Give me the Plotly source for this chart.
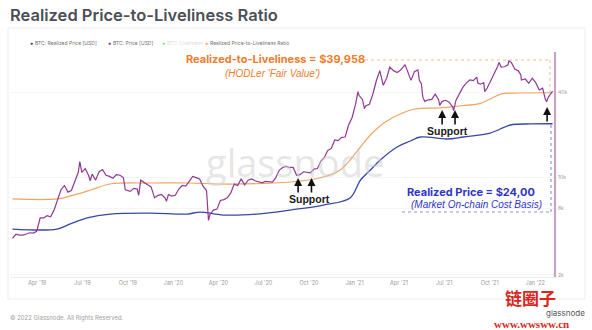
import math
import plotly.graph_objects as go

# ---------------- data ----------------
price_dates = [
    "2019-02-10", "2019-02-17", "2019-02-24", "2019-03-03", "2019-03-10", "2019-03-17", "2019-03-24",
    "2019-03-31", "2019-04-07", "2019-04-14", "2019-04-21", "2019-04-28", "2019-05-05", "2019-05-12",
    "2019-05-19", "2019-05-26", "2019-06-02", "2019-06-09", "2019-06-16", "2019-06-23", "2019-06-26",
    "2019-06-30", "2019-07-07", "2019-07-14", "2019-07-17", "2019-07-21", "2019-07-28", "2019-08-04",
    "2019-08-11", "2019-08-18", "2019-08-25", "2019-09-01", "2019-09-08", "2019-09-15", "2019-09-22",
    "2019-09-26", "2019-10-06", "2019-10-13", "2019-10-20", "2019-10-23", "2019-10-27", "2019-11-03",
    "2019-11-10", "2019-11-17", "2019-11-24", "2019-12-01", "2019-12-08", "2019-12-15", "2019-12-18",
    "2019-12-22", "2019-12-29",
    "2020-01-05", "2020-01-12", "2020-01-19", "2020-01-26", "2020-02-02", "2020-02-09", "2020-02-16",
    "2020-02-23", "2020-03-01", "2020-03-08", "2020-03-12", "2020-03-15", "2020-03-22", "2020-03-29",
    "2020-04-05", "2020-04-12", "2020-04-19", "2020-04-26", "2020-05-03", "2020-05-10", "2020-05-17",
    "2020-05-24", "2020-05-31", "2020-06-07", "2020-06-14", "2020-06-21", "2020-06-28", "2020-07-05",
    "2020-07-12", "2020-07-19", "2020-07-26", "2020-08-02", "2020-08-09", "2020-08-16", "2020-08-23",
    "2020-08-30", "2020-09-06", "2020-09-13", "2020-09-20", "2020-09-27", "2020-10-04", "2020-10-11",
    "2020-10-18", "2020-10-25", "2020-11-01", "2020-11-08", "2020-11-15", "2020-11-22", "2020-11-29",
    "2020-12-06", "2020-12-13", "2020-12-20", "2020-12-27",
    "2021-01-03", "2021-01-08", "2021-01-10", "2021-01-17", "2021-01-21", "2021-01-24", "2021-01-31",
    "2021-02-07", "2021-02-14", "2021-02-21", "2021-02-28", "2021-03-07", "2021-03-13", "2021-03-21",
    "2021-03-28", "2021-04-04", "2021-04-13", "2021-04-18", "2021-04-25", "2021-05-02", "2021-05-09",
    "2021-05-12", "2021-05-16", "2021-05-19", "2021-05-23", "2021-05-30", "2021-06-06", "2021-06-13",
    "2021-06-20", "2021-06-22", "2021-06-27", "2021-07-04", "2021-07-11", "2021-07-18", "2021-07-20",
    "2021-07-25", "2021-08-01", "2021-08-08", "2021-08-15", "2021-08-22", "2021-08-29", "2021-09-05",
    "2021-09-07", "2021-09-12", "2021-09-19", "2021-09-21", "2021-09-26", "2021-10-03", "2021-10-10",
    "2021-10-17", "2021-10-20", "2021-10-24", "2021-10-31", "2021-11-07", "2021-11-09", "2021-11-14",
    "2021-11-21", "2021-11-28", "2021-12-03", "2021-12-04", "2021-12-12", "2021-12-19", "2021-12-26",
    "2022-01-02", "2022-01-09", "2022-01-16", "2022-01-21", "2022-01-24", "2022-01-27", "2022-01-30",
    "2022-02-05",
]
price_usd = [
    3650, 3900, 3850, 3850, 3920, 4000, 3980,
    4100, 5100, 5100, 5300, 5200, 5800, 7000,
    8100, 8700, 7800, 8000, 9300, 10800, 12900,
    10800, 11500, 10200, 9400, 10500, 9500, 10900,
    11300, 10300, 10100, 9800, 10400, 10300, 9900,
    8100, 7900, 8300, 8200, 7400, 9500, 9200,
    8800, 8500, 7100, 7400, 7500, 7100, 6700,
    7500, 7300,
    7400, 8200, 8700, 8600, 9300, 10100, 9900,
    9700, 8600, 8000, 4900, 5400, 5800, 5900,
    6800, 6900, 7100, 7700, 8900, 8700, 9700,
    8800, 9500, 9700, 9400, 9300, 9100, 9300,
    9300, 9200, 9900, 11200, 11700, 11900, 11700,
    11700, 10300, 10400, 10900, 10800, 10700, 11400,
    11500, 13000, 13800, 15500, 16000, 18400, 18200,
    19200, 19300, 23500, 26500,
    33000, 40700, 38300, 35800, 30800, 32300, 33100,
    39000, 48700, 57500, 45200, 51000, 61000, 57500,
    55800, 58000, 63500, 56200, 49000, 56600, 58200,
    49000, 46400, 37000, 34700, 35600, 35800, 39000,
    35500, 32500, 34700, 35300, 34200, 31800, 29800,
    35400, 39900, 43800, 47000, 49300, 48800, 51700,
    46800, 46000, 47200, 40700, 43200, 48200, 54900,
    61500, 65900, 61000, 61300, 63300, 67500, 65500,
    58700, 57300, 53500, 49300, 50100, 46700, 50800,
    47300, 41800, 43100, 36300, 34500, 36800, 38000,
    41000,
]

realized_dates = [
    "2019-02-10", "2019-05-11", "2019-06-07", "2019-07-11", "2019-08-26", "2019-11-15", "2020-01-29",
    "2020-02-24", "2020-04-11", "2020-06-18", "2020-08-24", "2020-10-30", "2020-12-23", "2021-01-13",
    "2021-02-02", "2021-02-22", "2021-03-28", "2021-04-24", "2021-05-14", "2021-07-07", "2021-08-09",
    "2021-10-02", "2021-11-12", "2021-12-22", "2022-02-05",
]
realized_price = [
    4250, 4250, 4620, 5100, 5440, 5530, 5440,
    5620, 5350, 5440, 5810, 6310, 7080, 9520,
    11220, 13220, 16380, 18080, 19310, 18680, 19310,
    20600, 23520, 23920, 24000,
]

rtl_dates = [
    "2019-02-10", "2019-05-11", "2019-06-13", "2019-07-18", "2019-08-26", "2019-11-15", "2020-01-31",
    "2020-04-21", "2020-08-24", "2020-10-30", "2020-12-03", "2020-12-23", "2021-01-13", "2021-02-02",
    "2021-03-04", "2021-04-03", "2021-05-03", "2021-06-22", "2021-08-01", "2021-09-10", "2021-09-30",
    "2021-10-25", "2021-11-29", "2022-02-05",
]
rtl_price = [
    6970, 6970, 7430, 8070, 8910, 9060, 9060,
    8910, 9210, 10000, 11220, 13220, 16380, 19950,
    24730, 28180, 30590, 31120, 32150, 33400, 35800,
    39200, 39800, 39958,
]

tick_dates = ["2019-04-01", "2019-07-01", "2019-10-01", "2020-01-01", "2020-04-01", "2020-07-01",
              "2020-10-01", "2021-01-01", "2021-04-01", "2021-07-01", "2021-10-01", "2022-01-01"]
tick_labels = ["Apr '19", "Jul '19", "Oct '19", "Jan '20", "Apr '20", "Jul '20",
               "Oct '20", "Jan '21", "Apr '21", "Jul '21", "Oct '21", "Jan '22"]
y_ticks = [2000, 6000, 10000, 40000]
y_tick_labels = ["2k", "6k", "10k", "40k"]

# support arrows: (date, level the arrow points at)
support_dates = ["2020-09-09", "2020-10-06", "2021-06-27", "2021-07-23", "2022-01-25"]
support_levels = [9840, 9840, 30100, 30100, 31600]

# ---------------- styling ----------------
FIG_W, FIG_H = 592, 330
L, R, T, B = 10, 35, 50, 53
PW, PH = FIG_W - L - R, FIG_H - T - B

C_REAL = "#3847a6"
C_PRICE = "#8e3a93"
C_RTL = "#f0a464"
C_ORANGE_TXT = "#f07c2c"
C_BLUE_TXT = "#2f35c8"
GREY = "#9a9a9a"


def px(x):
    return (x - L) / PW


def py(y):
    return (FIG_H - B - y) / PH


fig = go.Figure()
fig.add_trace(go.Scatter(x=rtl_dates, y=rtl_price, mode="lines", line=dict(color=C_RTL, width=1.2),
                         line_shape="spline", name="Realized Price-to-Liveliness Ratio"))
fig.add_trace(go.Scatter(x=realized_dates, y=realized_price, mode="lines", line=dict(color=C_REAL, width=1.3),
                         line_shape="spline", name="BTC: Realized Price [USD]"))
fig.add_trace(go.Scatter(x=price_dates, y=price_usd, mode="lines", line=dict(color=C_PRICE, width=1.2),
                         name="BTC: Price [USD]"))

shapes = [
    # card behind the chart
    dict(type="rect", xref="paper", yref="paper", x0=px(8), x1=px(585), y0=py(299), y1=py(28),
         line=dict(color="#ebebeb", width=1), fillcolor="rgba(0,0,0,0)", layer="below"),
    # latest-date marker
    dict(type="line", xref="paper", yref="paper", x0=px(555), x1=px(555), y0=py(277), y1=py(52),
         line=dict(color="#c9a3c6", width=2.2)),
    # orange guide
    dict(type="line", xref="paper", yref="paper", x0=px(365), x1=px(550), y0=py(60), y1=py(60),
         line=dict(color="#f6b98f", width=1, dash="dot")),
    dict(type="line", xref="paper", yref="paper", x0=px(550), x1=px(550), y0=py(60), y1=py(92),
         line=dict(color="#f6b98f", width=1, dash="dot")),
    # blue guide
    dict(type="line", xref="paper", yref="paper", x0=px(402), x1=px(551), y0=py(212), y1=py(212),
         line=dict(color="#8e9bd8", width=1.2, dash="dot")),
    dict(type="line", xref="paper", yref="paper", x0=px(551), x1=px(551), y0=py(125), y1=py(212),
         line=dict(color="#8e9bd8", width=1.2, dash="dot")),
]

ann = []


def text(x, y, s, size, color, family="Liberation Sans, Arial", anchor="center", weight=None, italic=False):
    if italic:
        s = "<i>" + s + "</i>"
    font = dict(size=size, color=color, family=family)
    if weight:
        font["weight"] = weight
    ann.append(dict(xref="paper", yref="paper", x=px(x), y=py(y), text=s, showarrow=False,
                    xanchor=anchor, yanchor="middle", font=font))


# title
text(8, 15, "Realized Price-to-Liveliness Ratio", 16.5, "#4b4f56", family="Inter", anchor="left", weight=600)

# legend row
legend_items = [
    (28, "#2a2f7a", "BTC: Realized Price [USD]", "#6f6f6f"),
    (106, "#7a2f6f", "BTC: Price [USD]", "#6f6f6f"),
    (160, "#8bd48b", "BTC: Liveliness", "#dcdcdc"),
    (203, "#f5a25c", "Realized Price-to-Liveliness Ratio", "#6f6f6f"),
]
for lx, dot_c, label, txt_c in legend_items:
    text(lx, 43, "●", 5, dot_c, anchor="left")
    text(lx + 5, 43, label, 5, txt_c, family="Inter", anchor="left")

# callouts
text(275, 59, "Realized-to-Liveliness = $39,958", 11, C_ORANGE_TXT, family="Inter", weight=700)
text(272, 73, "(HODLer 'Fair Value')", 10, C_ORANGE_TXT, family="Liberation Sans, Arial", italic=True)
text(471, 192, "Realized Price = $24,00", 11, C_BLUE_TXT, family="Inter", weight=700)
text(476, 204, "(Market On-chain Cost Basis)", 10, C_BLUE_TXT, family="Liberation Sans, Arial", italic=True)
text(309, 199, "Support", 10.5, "#1a1a1a", family="Liberation Sans, Arial", weight=700)
text(447, 131, "Support", 10.5, "#1a1a1a", family="Liberation Sans, Arial", weight=700)

# watermark
text(295, 162, "glassnode", 38, "rgba(205,205,205,0.5)", family="Open Sans")

# footer
text(8, 318, "© 2022 Glassnode. All Rights Reserved.", 6, "#a0a0a0", family="Inter", anchor="left")
text(530, 297, "链圈子", 17, "#d9261c", family="Noto Sans CJK SC", weight=700)
text(565, 312.5, "glassnode", 8, "#555555", family="Inter")
text(531, 323.5, "www.wwsww.cn", 11, "#d9261c", family="Liberation Serif", weight=700)

# arrows
for d, lvl in zip(support_dates, support_levels):
    ann.append(dict(x=d, y=math.log10(lvl), xref="x", yref="y", text="", showarrow=True,
                    arrowhead=2, arrowsize=1, arrowwidth=1.6, arrowcolor="#111111",
                    ax=0, ay=16, axref="pixel", ayref="pixel"))

fig.update_layout(
    width=FIG_W, height=FIG_H,
    margin=dict(l=L, r=R, t=T, b=B, pad=0),
    paper_bgcolor="white", plot_bgcolor="white",
    showlegend=False,
    shapes=shapes,
    annotations=ann,
    xaxis=dict(type="date", range=["2019-02-05", "2022-02-14"], tickvals=tick_dates, ticktext=tick_labels,
               showgrid=False, showline=True, linecolor="#ececec", linewidth=1, ticks="",
               tickfont=dict(size=5.5, color=GREY, family="Inter"), zeroline=False),
    yaxis=dict(type="log", side="right", range=[3.286, 4.907], tickvals=y_ticks, ticktext=y_tick_labels,
               showgrid=True, gridcolor="#f5f5f5", gridwidth=1, showline=False, ticks="",
               tickfont=dict(size=5, color=GREY, family="Inter"), zeroline=False),
)

fig.write_html("out.html")
